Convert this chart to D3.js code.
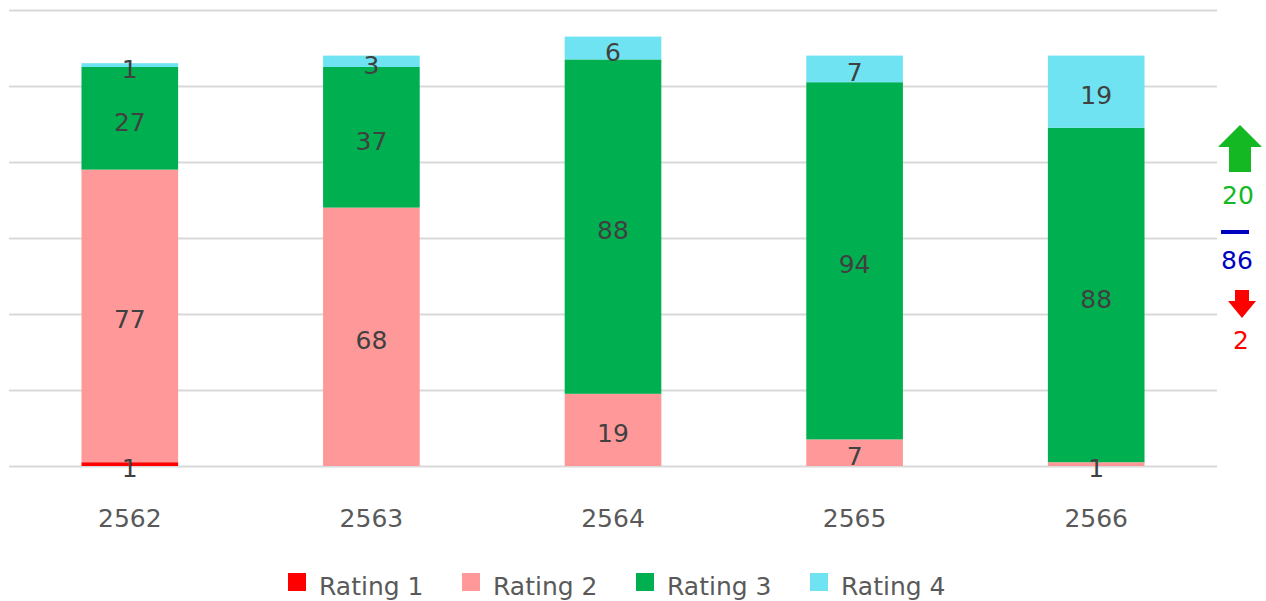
<!DOCTYPE html>
<html>
<head>
<meta charset="utf-8">
<script src="https://d3js.org/d3.v7.min.js"></script>
<style>
  body { margin: 0; background: #fff; }
  text { font-family: "DejaVu Sans", "Noto Sans", sans-serif; }
</style>
</head>
<body>
<script>
// chart data
var years = ["2562", "2563", "2564", "2565", "2566"];
var rating1 = [1, 0, 0, 0, 0];
var rating2 = [77, 68, 19, 7, 1];
var rating3 = [27, 37, 88, 94, 88];
var rating4 = [1, 3, 6, 7, 19];
var seriesNames = ["Rating 1", "Rating 2", "Rating 3", "Rating 4"];
var seriesColors = ["#ff0000", "#ff9999", "#00b050", "#6fe3f2"];
var yTicks = [0, 20, 40, 60, 80, 100, 120];

// right side change summary
var upValue = "20", sameValue = "86", downValue = "2";

var width = 1266, height = 601;
var svg = d3.select("body").append("svg")
  .attr("width", width).attr("height", height);

var x = d3.scaleBand().domain(years).range([9, 1217]).paddingInner(0.6).paddingOuter(0.3);
var y = d3.scaleLinear().domain([0, 120]).range([466, 10]);

// gridlines
svg.append("g").selectAll("line").data(yTicks).enter().append("line")
  .attr("x1", 9).attr("x2", 1217)
  .attr("y1", function(d) { return y(d) + 0.5; })
  .attr("y2", function(d) { return y(d) + 0.5; })
  .attr("stroke", "#d9d9d9").attr("stroke-width", 2);

var rows = years.map(function(yr, i) {
  return { year: yr, r1: rating1[i], r2: rating2[i], r3: rating3[i], r4: rating4[i] };
});
var stack = d3.stack().keys(["r1", "r2", "r3", "r4"])(rows);

var layers = svg.append("g").selectAll("g").data(stack).enter().append("g")
  .attr("fill", function(d, i) { return seriesColors[i]; });

layers.selectAll("rect").data(function(d) { return d; }).enter().append("rect")
  .attr("x", function(d) { return x(d.data.year); })
  .attr("width", x.bandwidth())
  .attr("y", function(d) { return y(d[1]); })
  .attr("height", function(d) { return y(d[0]) - y(d[1]); });

// data labels
stack.forEach(function(layer) {
  svg.append("g").selectAll("text").data(layer.filter(function(d) { return d[1] - d[0] > 0; }))
    .enter().append("text")
    .attr("x", function(d) { return x(d.data.year) + x.bandwidth() / 2; })
    .attr("y", function(d) { return (y(d[0]) + y(d[1])) / 2; })
    .attr("dy", "0.5em")
    .attr("text-anchor", "middle")
    .attr("font-size", 25)
    .attr("fill", "#404040")
    .text(function(d) { return d[1] - d[0]; });
});

// x axis
var xAxis = svg.append("g").attr("transform", "translate(0,466)")
  .call(d3.axisBottom(x).tickSize(0).tickPadding(43));
xAxis.select(".domain").remove();
xAxis.selectAll("text").attr("font-size", 25).attr("fill", "#595959")
  .attr("font-family", "DejaVu Sans, sans-serif");

// legend
var legend = svg.append("g").attr("transform", "translate(288,573)");
seriesNames.forEach(function(name, i) {
  var g = legend.append("g").attr("transform", "translate(" + (i * 174) + ",0)");
  g.append("rect").attr("width", 18).attr("height", 18).attr("fill", seriesColors[i]);
  g.append("text").attr("x", 31).attr("y", 9).attr("dy", "0.5em")
    .attr("font-size", 25).attr("fill", "#595959").text(name);
});

// change summary on the right
var side = svg.append("g");
side.append("path")
  .attr("d", "M1240,125 L1262,147 L1251,147 L1251,172 L1229,172 L1229,147 L1218,147 Z")
  .attr("fill", "#13b823");
side.append("text").attr("x", 1238).attr("y", 204).attr("text-anchor", "middle")
  .attr("font-size", 25).attr("fill", "#13b823").text(upValue);
side.append("rect").attr("x", 1221).attr("y", 230).attr("width", 28).attr("height", 4)
  .attr("fill", "#0000c0");
side.append("text").attr("x", 1237).attr("y", 269).attr("text-anchor", "middle")
  .attr("font-size", 25).attr("fill", "#0000c0").text(sameValue);
side.append("path")
  .attr("d", "M1235,290 L1249,290 L1249,301 L1256,301 L1242,318 L1228,301 L1235,301 Z")
  .attr("fill", "#ff0000");
side.append("text").attr("x", 1241).attr("y", 349).attr("text-anchor", "middle")
  .attr("font-size", 25).attr("fill", "#ff0000").text(downValue);
</script>
</body>
</html>
